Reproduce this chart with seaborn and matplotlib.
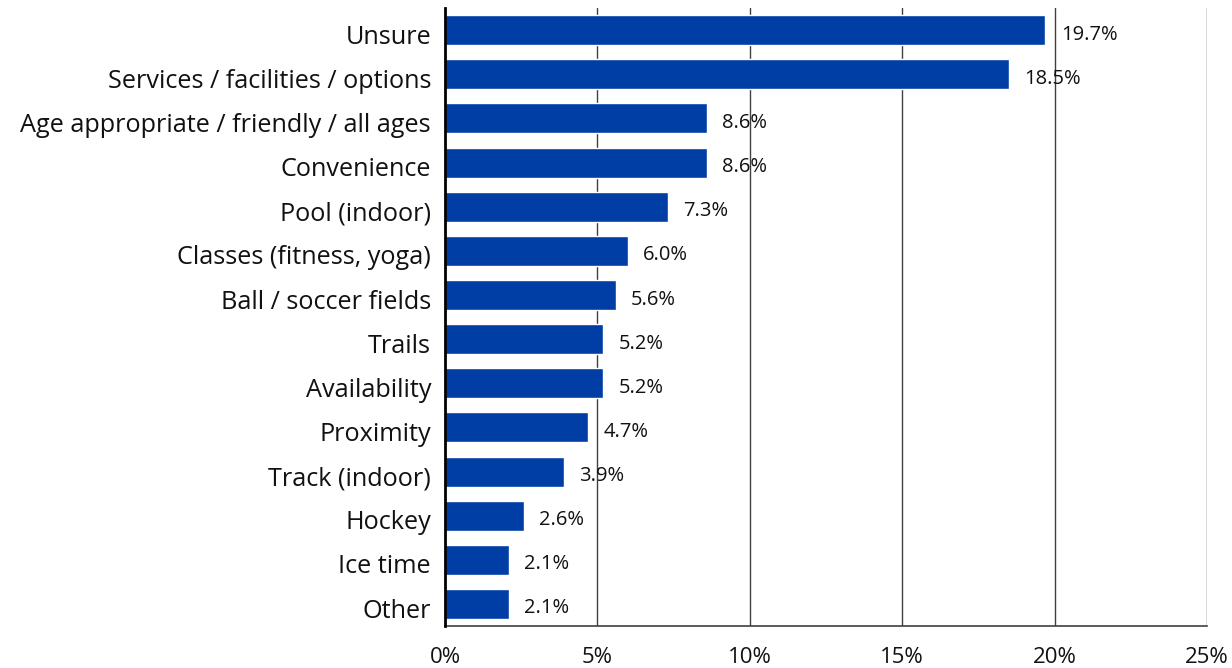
import matplotlib
matplotlib.use("Agg")
import matplotlib.pyplot as plt
import matplotlib.transforms as mtransforms
import seaborn as sns
import pandas as pd

categories = [
    "Unsure",
    "Services / facilities / options",
    "Age appropriate / friendly / all ages",
    "Convenience",
    "Pool (indoor)",
    "Classes (fitness, yoga)",
    "Ball / soccer fields",
    "Trails",
    "Availability",
    "Proximity",
    "Track (indoor)",
    "Hockey",
    "Ice time",
    "Other",
]
values = [19.7, 18.5, 8.6, 8.6, 7.3, 6.0, 5.6, 5.2, 5.2, 4.7, 3.9, 2.6, 2.1, 2.1]
x_ticks = [0, 5, 10, 15, 20, 25]
x_tick_labels = ["0%", "5%", "10%", "15%", "20%", "25%"]

sns.set_style("white")
plt.rcParams["font.family"] = ["Open Sans", "DejaVu Sans"]
plt.rcParams["text.color"] = "#111111"
plt.rcParams["xtick.color"] = "#111111"
plt.rcParams["ytick.color"] = "#111111"

df = pd.DataFrame({"category": categories, "value": values})

fig = plt.figure(figsize=(12.32, 6.68), dpi=100)
ax = fig.add_axes([0.3612, 0.0629, 0.6185, 0.925])

sns.barplot(data=df, x="value", y="category", color="#003DA5", saturation=1,
            width=0.68, ax=ax, zorder=3)

ax.set_xlim(0, 25)
ax.set_ylim(len(categories) - 0.5, -0.5)
ax.set_xticks(x_ticks)
ax.set_xticklabels(x_tick_labels, fontsize=16)
ax.tick_params(axis="y", labelsize=18.2, length=0, pad=10)
ax.tick_params(axis="x", length=0, pad=15)

# nudge category labels slightly below the bar centres
down = mtransforms.ScaledTranslation(0, -3 / 72, fig.dpi_scale_trans)
for lbl in ax.get_yticklabels():
    lbl.set_verticalalignment("center_baseline")
    lbl.set_transform(lbl.get_transform() + down)
ax.set_xlabel("")
ax.set_ylabel("")

for x in x_ticks[1:]:
    ax.axvline(x, color="#404040", linewidth=1, zorder=1)

for s in ["top", "right"]:
    ax.spines[s].set_visible(False)
ax.spines["left"].set_color("black")
ax.spines["left"].set_linewidth(2)
ax.spines["left"].set_zorder(4)
ax.spines["bottom"].set_color("#404040")
ax.spines["bottom"].set_linewidth(1.2)

value_shift = mtransforms.ScaledTranslation(0, -1.5 / 72, fig.dpi_scale_trans)
for i, v in enumerate(values):
    ax.text(v + 0.5, i, f"{v:.1f}%", va="center_baseline", ha="left",
            fontsize=14.5, zorder=5, transform=ax.transData + value_shift)

fig.savefig("out.png", dpi=100)
